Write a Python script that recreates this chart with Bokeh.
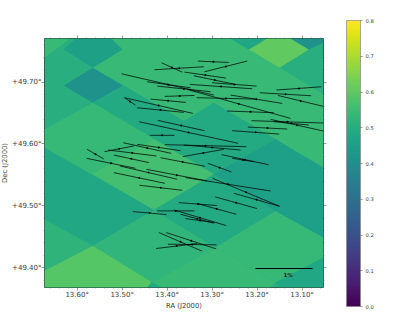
from bokeh.plotting import figure
from bokeh.models import Range1d, FixedTicker, LinearAxis, LinearColorMapper, ColorBar, ColumnDataSource
from bokeh.palettes import Viridis256
from bokeh.embed import file_html
from bokeh.resources import INLINE
from bokeh.core.properties import value

# sky-tile regions: (ra list, dec list, level)
tile_level = [0.505, 0.54, 0.455, 0.41, 0.54, 0.47, 0.605, 0.41, 0.49,
              0.535, 0.56, 0.475, 0.52, 0.59, 0.525, 0.49, 0.535, 0.54, 0.475, 0.49, 0.45]
tile_ra = [
 [13.6726, 13.0524, 13.0524, 13.6726],
 [13.6726, 13.6148, 13.6726],
 [13.6296, 13.5652, 13.4985, 13.5244, 13.6037],
 [13.6296, 13.5652, 13.4985, 13.5652],
 [13.5244, 13.2591, 13.2184, 13.1502, 13.0524, 13.0524, 13.2962, 13.3629, 13.4963, 13.5652, 13.4985],
 [13.2591, 13.2184, 13.1924, 13.1776],
 [13.2184, 13.1502, 13.0850, 13.1257, 13.1776],
 [13.1257, 13.0850, 13.0524, 13.0524],
 [13.5652, 13.4963, 13.3629, 13.2962, 13.1591, 13.2962],
 [13.6726, 13.5652, 13.2962, 13.4296, 13.6726],
 [13.5652, 13.4296, 13.2962, 13.4296],
 [13.6726, 13.4296, 13.5652, 13.6726],
 [13.6726, 13.5652, 13.6726],
 [13.6726, 13.5652, 13.4333, 13.4444, 13.6726],
 [13.5652, 13.4296, 13.2925, 13.4333],
 [13.4296, 13.2962, 13.1591, 13.2925],
 [13.2925, 13.1591, 13.0524, 13.0524, 13.1591],
 [13.4333, 13.2925, 13.1591, 13.1702, 13.4110],
 [13.1591, 13.0524, 13.0524, 13.1502],
 [13.4444, 13.4333, 13.4110],
 [13.2962, 13.1591, 13.0524, 13.0524, 13.1591],
]
tile_dec = [
 [49.7704, 49.7704, 49.3680, 49.3680],
 [49.7704, 49.7704, 49.7392],
 [49.7527, 49.7231, 49.7527, 49.7704, 49.7704],
 [49.6946, 49.7231, 49.6946, 49.6666],
 [49.7704, 49.7704, 49.7527, 49.7231, 49.6801, 49.5617, 49.6666, 49.6370, 49.6946, 49.7231, 49.7527],
 [49.7704, 49.7527, 49.7634, 49.7704],
 [49.7527, 49.7231, 49.7527, 49.7704, 49.7704],
 [49.7704, 49.7527, 49.7634, 49.7704],
 [49.6666, 49.6946, 49.6370, 49.6666, 49.6074, 49.5509],
 [49.6236, 49.6666, 49.5509, 49.4934, 49.5940],
 [49.5520, 49.6074, 49.5509, 49.4934],
 [49.5940, 49.4934, 49.4353, 49.4783],
 [49.4783, 49.4353, 49.3949],
 [49.3949, 49.4353, 49.3788, 49.3680, 49.3680],
 [49.4353, 49.4934, 49.4326, 49.3761],
 [49.4934, 49.5509, 49.4918, 49.4326],
 [49.4326, 49.4918, 49.4487, 49.4164, 49.3761],
 [49.3761, 49.4326, 49.3761, 49.3680, 49.3680],
 [49.3761, 49.4164, 49.3680, 49.3680],
 [49.3680, 49.3761, 49.3680],
 [49.5509, 49.6074, 49.5617, 49.4487, 49.4918],
]

# polarisation vectors
ra_a = [13.4125,13.4281,13.3317,13.3169,13.5014,13.4444,13.4221,13.3614,13.3406,13.2999,13.3495,13.2591,13.3347,13.3555,13.2665,13.1939,13.1569,13.1539,13.2124,13.2206,13.2554,13.1702,13.1628,13.4948,13.4948,13.4666,13.4370,13.4051,13.4207,13.4622,13.4385,13.4051,13.3629,13.3651,13.2791,13.2554,13.3095,13.4977,13.5392,13.5311,13.5778,13.5185,13.5792,13.4147,13.4666,13.5051,13.4459,13.5185,13.4614,13.3592,13.2991,13.2517,13.2932,13.3740,13.3332,13.4762,13.4221,13.3851,13.3703,13.3592,13.4184,13.4021,13.3984,13.4244]
dec_a = [49.7312,49.7199,49.7339,49.7166,49.7134,49.7005,49.6935,49.7161,49.7102,49.6989,49.6962,49.6790,49.6747,49.6881,49.6532,49.6827,49.6871,49.6784,49.6376,49.6273,49.6214,49.6397,49.6359,49.6747,49.6747,49.6585,49.6725,49.6768,49.6381,49.6359,49.6139,49.5988,49.5983,49.5795,49.5827,49.5768,49.5687,49.6020,49.5875,49.5902,49.5913,49.5821,49.5768,49.5778,49.5994,49.5644,49.5590,49.5536,49.5332,49.5456,49.5445,49.5203,49.5144,49.5052,49.5036,49.4907,49.4918,49.4934,49.4864,49.4794,49.4568,49.4568,49.4380,49.4310]
ra_b = [13.3666,13.3184,13.2628,13.2221,13.2962,13.3480,13.3036,13.2688,13.2480,13.2013,13.2110,13.1443,13.2036,13.1257,13.1628,13.0798,13.0568,13.0524,13.0524,13.1332,13.1509,13.0524,13.0850,13.4703,13.3429,13.3629,13.3584,13.3392,13.3169,13.2421,13.3836,13.2243,13.2369,13.2739,13.1747,13.2073,13.2569,13.3910,13.4740,13.4236,13.5407,13.4407,13.4703,13.3162,13.3703,13.3777,13.3110,13.4051,13.3666,13.1702,13.1502,13.1502,13.1998,13.2888,13.2465,13.4014,13.3392,13.2688,13.2962,13.2947,13.3221,13.2910,13.2903,13.3332]
dec_b = [49.7161,49.7247,49.7317,49.7339,49.6790,49.6908,49.6844,49.7064,49.6962,49.6935,49.6892,49.6655,49.6725,49.6413,49.6505,49.6779,49.6924,49.6607,49.6338,49.6241,49.6160,49.6209,49.6306,49.6628,49.6494,49.6510,49.6671,49.6784,49.6214,49.6010,49.6139,49.5956,49.5902,49.5913,49.5665,49.5714,49.5547,49.5848,49.5967,49.5805,49.5757,49.5698,49.5606,49.5639,49.5891,49.5429,49.5402,49.5364,49.5251,49.5240,49.4993,49.4993,49.4955,49.5004,49.4864,49.4858,49.4918,49.4681,49.4719,49.4729,49.4267,49.4304,49.4369,49.4390]

scale_ra = [13.2036, 13.0768]
scale_dec = [49.3987, 49.3987]
scale_text_ra = [13.1309]
scale_text_dec = [49.3885]
scale_text = ["1%"]

ra_ticks = [13.60, 13.50, 13.40, 13.30, 13.20, 13.10]
ra_labels = ["13.60°", "13.50°", "13.40°", "13.30°", "13.20°", "13.10°"]
ra_minor = [13.66, 13.64, 13.62, 13.58, 13.56, 13.54, 13.52, 13.48, 13.46, 13.44, 13.42, 13.38, 13.36,
            13.34, 13.32, 13.28, 13.26, 13.24, 13.22, 13.18, 13.16, 13.14, 13.12, 13.08, 13.06]
dec_ticks = [49.70, 49.60, 49.50, 49.40]
dec_labels = ["+49.70°", "+49.60°", "+49.50°", "+49.40°"]
dec_minor = [49.76, 49.74, 49.72, 49.68, 49.66, 49.64, 49.62, 49.58, 49.56, 49.54, 49.52, 49.48, 49.46, 49.44, 49.42, 49.38]
cbar_ticks = [0.0, 0.1, 0.2, 0.3, 0.4, 0.5, 0.6, 0.7, 0.8]
cbar_labels = ["0.0", "0.1", "0.2", "0.3", "0.4", "0.5", "0.6", "0.7", "0.8"]

TXT = "#3a3a3a"
FRAME = "#2b4a40"

p = figure(frame_width=279, frame_height=249, output_backend="svg", toolbar_location=None,
           x_range=Range1d(13.6726, 13.0524), y_range=Range1d(49.3680, 49.7704),
           min_border_left=36, min_border_top=38, min_border_right=68, min_border_bottom=12,
           margin=(0, 0, 0, -2), outline_line_color=FRAME, outline_line_width=1)
p.xgrid.visible = False
p.ygrid.visible = False

mapper = LinearColorMapper(palette=Viridis256, low=0.0, high=0.8)

src = ColumnDataSource(dict(xs=tile_ra, ys=tile_dec, level=tile_level))
p.patches("xs", "ys", source=src, fill_color={"field": "level", "transform": mapper}, line_color=None)

p.segment(ra_a, dec_a, ra_b, dec_b, line_color="#000000", line_width=0.8, line_alpha=0.9)
mid_ra = [(a + b) / 2 for a, b in zip(ra_a, ra_b)]
mid_dec = [(a + b) / 2 for a, b in zip(dec_a, dec_b)]
p.scatter(mid_ra, mid_dec, size=2, color="#000000", line_color=None)

p.line(scale_ra, scale_dec, line_color="#000000", line_width=1)
p.text(scale_text_ra, scale_text_dec, text=scale_text, text_font=value("DejaVu Sans"), text_font_size="5.5px",
       text_font_style="bold", text_align="center", text_baseline="middle", text_color="#222222")


def style(ax):
    ax.axis_line_color = None
    ax.major_tick_line_color = "#555555"
    ax.minor_tick_line_color = "#666666"
    ax.major_tick_line_width = 0.6
    ax.minor_tick_line_width = 0.5
    ax.major_tick_out = 3
    ax.major_tick_in = 0
    ax.minor_tick_out = 1
    ax.minor_tick_in = 0
    ax.major_label_text_font = "DejaVu Sans"
    ax.major_label_text_font_size = "7px"
    ax.major_label_text_color = TXT
    ax.major_label_standoff = 0
    ax.axis_label_text_font = "DejaVu Sans"
    ax.axis_label_text_font_size = "6.8px"
    ax.axis_label_text_font_style = "normal"
    ax.axis_label_text_color = TXT
    ax.axis_label_standoff = 0


xt = FixedTicker(ticks=ra_ticks, minor_ticks=ra_minor)
yt = FixedTicker(ticks=dec_ticks, minor_ticks=dec_minor)
xa = p.xaxis[0]
ya = p.yaxis[0]
xa.ticker = xt
ya.ticker = yt
xa.major_label_overrides = dict(zip(ra_ticks, ra_labels))
ya.major_label_overrides = dict(zip(dec_ticks, dec_labels))
xa.axis_label = "RA (J2000)"
ya.axis_label = "Dec (J2000)"
style(xa)
style(ya)
ya.major_label_orientation = "horizontal"
top = LinearAxis(ticker=FixedTicker(ticks=ra_ticks, minor_ticks=ra_minor))
right = LinearAxis(ticker=FixedTicker(ticks=dec_ticks, minor_ticks=dec_minor))
style(top)
style(right)
top.major_label_overrides = {t: "" for t in ra_ticks}
right.major_label_overrides = {t: "" for t in dec_ticks}
p.add_layout(top, "above")
p.add_layout(right, "right")

cb = ColorBar(color_mapper=mapper, ticker=FixedTicker(ticks=cbar_ticks),
              major_label_overrides=dict(zip(cbar_ticks, cbar_labels)), width=14, height=286,
              location=(302, -19), padding=0, margin=0, bar_line_color="#888888", bar_line_width=0.7,
              major_tick_line_color="#555555", major_tick_line_width=0.6, major_tick_in=0, major_tick_out=2,
              minor_tick_line_color=None, label_standoff=3, major_label_text_font="DejaVu Sans",
              major_label_text_font_size="5.2px", major_label_text_color=TXT, background_fill_color=None,
              border_line_color=None)
p.add_layout(cb, "center")

open("out.html", "w").write(file_html(p, INLINE))
